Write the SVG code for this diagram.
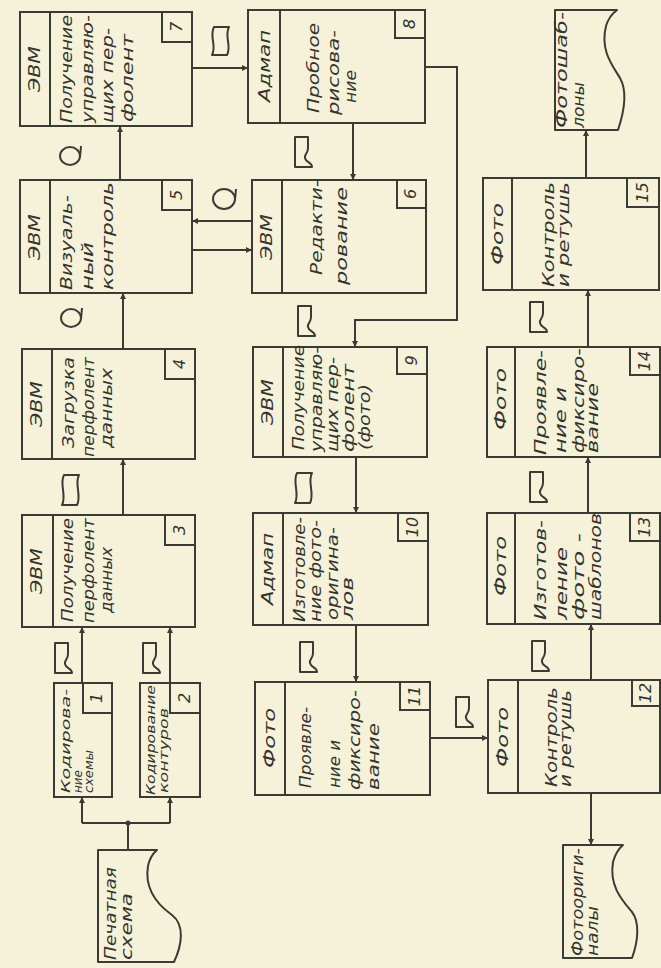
<svg xmlns="http://www.w3.org/2000/svg" width="661" height="968" viewBox="0 0 661 968">
<defs>
<style>
.bg{fill:#f6f2d9}
.b{fill:none;stroke:#3b3b36;stroke-width:2}
.c{fill:none;stroke:#3b3b36;stroke-width:2}
.s{fill:none;stroke:#3b3b36;stroke-width:2;stroke-linejoin:round}
.t{font-family:"DejaVu Sans","Liberation Sans",sans-serif;font-style:italic;font-size:16px;fill:#34342f}
.h{font-family:"DejaVu Sans","Liberation Sans",sans-serif;font-style:italic;font-size:16px;fill:#34342f;text-anchor:middle}
.sm{font-size:13px}
</style>
<marker id="ar" viewBox="0 0 10 10" refX="10" refY="5" markerWidth="8" markerHeight="6" markerUnits="userSpaceOnUse" orient="auto">
<path d="M0,0 L10,5 L0,10 Z" fill="#3b3b36"/>
</marker>
</defs>
<rect class="bg" x="0" y="0" width="661" height="968"/>

<g id="connectors">
<path class="c" d="M128,850 V823"/>
<circle cx="128" cy="823" r="2.5" fill="#3b3b36"/>
<path class="c" d="M82,823 H170"/>
<path class="c" d="M82,823 V797" marker-end="url(#ar)"/>
<path class="c" d="M170,823 V797" marker-end="url(#ar)"/>
<path class="c" d="M82,683 V627" marker-end="url(#ar)"/>
<path class="c" d="M170,683 V627" marker-end="url(#ar)"/>
<path class="c" d="M123,515 V459" marker-end="url(#ar)"/>
<path class="c" d="M123,349 V293" marker-end="url(#ar)"/>
<path class="c" d="M120,180 V126" marker-end="url(#ar)"/>
<path class="c" d="M192,68 H248" marker-end="url(#ar)"/>
<path class="c" d="M353,123 V180" marker-end="url(#ar)"/>
<path class="c" d="M192,250 H252" marker-end="url(#ar)"/>
<path class="c" d="M252,221 H192" marker-end="url(#ar)"/>
<path class="c" d="M425,67 H457 V320 H355 V347" marker-end="url(#ar)"/>
<path class="c" d="M356,457 V513" marker-end="url(#ar)"/>
<path class="c" d="M356,625 V682" marker-end="url(#ar)"/>
<path class="c" d="M430,738 H488" marker-end="url(#ar)"/>
<path class="c" d="M591,793 V845" marker-end="url(#ar)"/>
<path class="c" d="M591,680 V624" marker-end="url(#ar)"/>
<path class="c" d="M588,513 V457" marker-end="url(#ar)"/>
<path class="c" d="M588,347 V290" marker-end="url(#ar)"/>
<path class="c" d="M586,178 V130" marker-end="url(#ar)"/>
</g>

<g id="media">
<path class="s" d="M55,643 h13 v11 c0,6 -4,6 -3,10 c1,5 7,4 7,9 h-17 z"/>
<path class="s" d="M143,643 h13 v11 c0,6 -4,6 -3,10 c1,5 7,4 7,9 h-17 z"/>
<path class="s" d="M295,137 h13 v11 c0,6 -4,6 -3,10 c1,5 7,4 7,9 h-17 z"/>
<path class="s" d="M298,306 h13 v11 c0,6 -4,6 -3,10 c1,5 7,4 7,9 h-17 z"/>
<path class="s" d="M300,642 h13 v11 c0,6 -4,6 -3,10 c1,5 7,4 7,9 h-17 z"/>
<path class="s" d="M456,697 h13 v11 c0,6 -4,6 -3,10 c1,5 7,4 7,9 h-17 z"/>
<path class="s" d="M532,641 h13 v11 c0,6 -4,6 -3,10 c1,5 7,4 7,9 h-17 z"/>
<path class="s" d="M530,472 h13 v11 c0,6 -4,6 -3,10 c1,5 7,4 7,9 h-17 z"/>
<path class="s" d="M530,302 h13 v11 c0,6 -4,6 -3,10 c1,5 7,4 7,9 h-17 z"/>
<path class="s" d="M214,27 h15 c-5,9 3,19 -2,28 h-15 c5,-9 -3,-19 2,-28 z"/>
<path class="s" d="M64,475 h15 c-5,9 3,20 -2,30 h-15 c5,-10 -3,-21 2,-30 z"/>
<path class="s" d="M297,473 h15 c-5,9 3,20 -2,30 h-15 c5,-10 -3,-21 2,-30 z"/>
<ellipse class="s" cx="70" cy="156" rx="10" ry="9"/>
<path class="s" d="M80,157 L81,146"/>
<ellipse class="s" cx="71" cy="318" rx="10" ry="9"/>
<path class="s" d="M81,319 L82,308"/>
<ellipse class="s" cx="224" cy="199" rx="11" ry="10"/>
<path class="s" d="M235,200 L236,189"/>
</g>

<g id="doc_pechatnaya">
<path class="s" d="M98,850 H157 Q150,856 148,866 C144,890 158,905 172,915 C185,925 182,945 174,962 H98 Z"/>
<text class="t" transform="translate(116,960) rotate(-90)" textLength="93" lengthAdjust="spacingAndGlyphs">Печатная</text>
<text class="t" transform="translate(132,960) rotate(-90)" textLength="67" lengthAdjust="spacingAndGlyphs">схема</text>
</g>

<g id="doc_fotooriginaly">
<path class="s" d="M563,845 H623 Q616,851 613,862 C609,886 622,900 632,912 C640,922 638,942 632,958 H563 Z"/>
<text class="t" transform="translate(583,956) rotate(-90)" textLength="108" lengthAdjust="spacingAndGlyphs">Фотоориги-</text>
<text class="t" transform="translate(598,956) rotate(-90)" textLength="50" lengthAdjust="spacingAndGlyphs">налы</text>
</g>

<g id="doc_fotoshablony">
<path class="s" d="M555,10 H617 Q609,16 606,26 C600,50 612,65 620,78 C628,92 624,112 618,130 H555 Z"/>
<text class="t" transform="translate(567,128) rotate(-90)" textLength="116" lengthAdjust="spacingAndGlyphs">Фотошаб-</text>
<text class="t" transform="translate(584,128) rotate(-90)" textLength="46" lengthAdjust="spacingAndGlyphs">лоны</text>
</g>

<g id="n1">
<rect class="b" x="54" y="683" width="58" height="114"/>
<rect class="b" x="83" y="683" width="29" height="30"/>
<text class="h" transform="translate(102,698) rotate(-90)">1</text>
<text class="t sm" transform="translate(70,793) rotate(-90)" textLength="104" lengthAdjust="spacingAndGlyphs">Кодирова-</text>
<text class="t sm" transform="translate(82,793) rotate(-90)" textLength="23" lengthAdjust="spacingAndGlyphs">ние</text>
<text class="t sm" transform="translate(93,793) rotate(-90)" textLength="43" lengthAdjust="spacingAndGlyphs">схемы</text>
</g>

<g id="n2">
<rect class="b" x="140" y="683" width="60" height="114"/>
<rect class="b" x="170" y="683" width="30" height="30"/>
<text class="h" transform="translate(190,698) rotate(-90)">2</text>
<text class="t sm" transform="translate(155,795) rotate(-90)" textLength="110" lengthAdjust="spacingAndGlyphs">Кодирование</text>
<text class="t sm" transform="translate(168,793) rotate(-90)" textLength="85" lengthAdjust="spacingAndGlyphs">контуров</text>
</g>

<g id="n3">
<rect class="b" x="22" y="515" width="173" height="112"/>
<line class="b" x1="53" y1="515" x2="53" y2="627"/>
<rect class="b" x="165" y="515" width="30" height="30"/>
<text class="h" transform="translate(185,530) rotate(-90)">3</text>
<text class="h" transform="translate(42,571) rotate(-90)" textLength="46" lengthAdjust="spacingAndGlyphs">ЭВМ</text>
<text class="t" transform="translate(73,622) rotate(-90)" textLength="104" lengthAdjust="spacingAndGlyphs">Получение</text>
<text class="t" transform="translate(94,623) rotate(-90)" textLength="105" lengthAdjust="spacingAndGlyphs">перфолент</text>
<text class="t" transform="translate(112,613) rotate(-90)" textLength="66" lengthAdjust="spacingAndGlyphs">данных</text>
</g>

<g id="n4">
<rect class="b" x="22" y="349" width="173" height="110"/>
<line class="b" x1="52" y1="349" x2="52" y2="459"/>
<rect class="b" x="165" y="349" width="30" height="30"/>
<text class="h" transform="translate(185,364) rotate(-90)">4</text>
<text class="h" transform="translate(42,404) rotate(-90)" textLength="46" lengthAdjust="spacingAndGlyphs">ЭВМ</text>
<text class="t" transform="translate(74,448) rotate(-90)" textLength="91" lengthAdjust="spacingAndGlyphs">Загрузка</text>
<text class="t" transform="translate(94,457) rotate(-90)" textLength="100" lengthAdjust="spacingAndGlyphs">перфолент</text>
<text class="t" transform="translate(112,448) rotate(-90)" textLength="80" lengthAdjust="spacingAndGlyphs">данных</text>
</g>

<g id="n5">
<rect class="b" x="20" y="180" width="172" height="113"/>
<line class="b" x1="50" y1="180" x2="50" y2="293"/>
<rect class="b" x="162" y="180" width="30" height="30"/>
<text class="h" transform="translate(182,195) rotate(-90)">5</text>
<text class="h" transform="translate(40,237) rotate(-90)" textLength="46" lengthAdjust="spacingAndGlyphs">ЭВМ</text>
<text class="t" transform="translate(72,290) rotate(-90)" textLength="95" lengthAdjust="spacingAndGlyphs">Визуаль-</text>
<text class="t" transform="translate(93,290) rotate(-90)" textLength="48" lengthAdjust="spacingAndGlyphs">ный</text>
<text class="t" transform="translate(113,290) rotate(-90)" textLength="108" lengthAdjust="spacingAndGlyphs">контроль</text>
</g>

<g id="n6">
<rect class="b" x="252" y="180" width="174" height="113"/>
<line class="b" x1="282" y1="180" x2="282" y2="293"/>
<rect class="b" x="397" y="180" width="29" height="28"/>
<text class="h" transform="translate(416,194) rotate(-90)">6</text>
<text class="h" transform="translate(272,237) rotate(-90)" textLength="46" lengthAdjust="spacingAndGlyphs">ЭВМ</text>
<text class="t" transform="translate(322,275) rotate(-90)" textLength="95" lengthAdjust="spacingAndGlyphs">Редакти-</text>
<text class="t" transform="translate(347,285) rotate(-90)" textLength="98" lengthAdjust="spacingAndGlyphs">рование</text>
</g>

<g id="n7">
<rect class="b" x="20" y="12" width="172" height="114"/>
<line class="b" x1="50" y1="12" x2="50" y2="126"/>
<rect class="b" x="162" y="12" width="30" height="30"/>
<text class="h" transform="translate(182,27) rotate(-90)">7</text>
<text class="h" transform="translate(40,69) rotate(-90)" textLength="46" lengthAdjust="spacingAndGlyphs">ЭВМ</text>
<text class="t" transform="translate(72,123) rotate(-90)" textLength="108" lengthAdjust="spacingAndGlyphs">Получение</text>
<text class="t" transform="translate(93,123) rotate(-90)" textLength="108" lengthAdjust="spacingAndGlyphs">управляю-</text>
<text class="t" transform="translate(113,123) rotate(-90)" textLength="95" lengthAdjust="spacingAndGlyphs">щих пер-</text>
<text class="t" transform="translate(133,122) rotate(-90)" textLength="88" lengthAdjust="spacingAndGlyphs">фолент</text>
</g>

<g id="n8">
<rect class="b" x="248" y="10" width="177" height="113"/>
<line class="b" x1="280" y1="10" x2="280" y2="123"/>
<rect class="b" x="395" y="10" width="30" height="28"/>
<text class="h" transform="translate(415,24) rotate(-90)">8</text>
<text class="h" transform="translate(270,66) rotate(-90)" textLength="72" lengthAdjust="spacingAndGlyphs">Адмап</text>
<text class="t" transform="translate(319,113) rotate(-90)" textLength="90" lengthAdjust="spacingAndGlyphs">Пробное</text>
<text class="t" transform="translate(339,115) rotate(-90)" textLength="85" lengthAdjust="spacingAndGlyphs">рисова-</text>
<text class="t" transform="translate(356,103) rotate(-90)" textLength="33" lengthAdjust="spacingAndGlyphs">ние</text>
</g>

<g id="n9">
<rect class="b" x="253" y="347" width="174" height="110"/>
<line class="b" x1="283" y1="347" x2="283" y2="457"/>
<rect class="b" x="397" y="347" width="30" height="27"/>
<text class="h" transform="translate(417,360.5) rotate(-90)">9</text>
<text class="h" transform="translate(273,402) rotate(-90)" textLength="46" lengthAdjust="spacingAndGlyphs">ЭВМ</text>
<text class="t" transform="translate(304,450) rotate(-90)" textLength="105" lengthAdjust="spacingAndGlyphs">Получение</text>
<text class="t" transform="translate(322,452) rotate(-90)" textLength="105" lengthAdjust="spacingAndGlyphs">управляю-</text>
<text class="t" transform="translate(338,452) rotate(-90)" textLength="95" lengthAdjust="spacingAndGlyphs">щих пер-</text>
<text class="t" transform="translate(354,452) rotate(-90)" textLength="88" lengthAdjust="spacingAndGlyphs">фолент</text>
<text class="t" transform="translate(370,450) rotate(-90)" textLength="66" lengthAdjust="spacingAndGlyphs">(фото)</text>
</g>

<g id="n10">
<rect class="b" x="253" y="513" width="175" height="112"/>
<line class="b" x1="283" y1="513" x2="283" y2="625"/>
<rect class="b" x="398" y="513" width="30" height="28"/>
<text class="h" transform="translate(418,527) rotate(-90)">10</text>
<text class="h" transform="translate(273,569) rotate(-90)" textLength="72" lengthAdjust="spacingAndGlyphs">Адмап</text>
<text class="t" transform="translate(305,622) rotate(-90)" textLength="105" lengthAdjust="spacingAndGlyphs">Изготовле-</text>
<text class="t" transform="translate(321,622) rotate(-90)" textLength="102" lengthAdjust="spacingAndGlyphs">ние фото-</text>
<text class="t" transform="translate(338,620) rotate(-90)" textLength="93" lengthAdjust="spacingAndGlyphs">оригина-</text>
<text class="t" transform="translate(353,620) rotate(-90)" textLength="43" lengthAdjust="spacingAndGlyphs">лов</text>
</g>

<g id="n11">
<rect class="b" x="255" y="682" width="175" height="113"/>
<line class="b" x1="285" y1="682" x2="285" y2="795"/>
<rect class="b" x="400" y="682" width="30" height="28"/>
<text class="h" transform="translate(420,696) rotate(-90)">11</text>
<text class="h" transform="translate(275,738) rotate(-90)" textLength="60" lengthAdjust="spacingAndGlyphs">Фото</text>
<text class="t" transform="translate(311,788) rotate(-90)" textLength="81" lengthAdjust="spacingAndGlyphs">Проявле-</text>
<text class="t" transform="translate(340,788) rotate(-90)" textLength="48" lengthAdjust="spacingAndGlyphs">ние и</text>
<text class="t" transform="translate(360,790) rotate(-90)" textLength="100" lengthAdjust="spacingAndGlyphs">фиксиро-</text>
<text class="t" transform="translate(379,790) rotate(-90)" textLength="67" lengthAdjust="spacingAndGlyphs">вание</text>
</g>

<g id="n12">
<rect class="b" x="488" y="680" width="172" height="113"/>
<line class="b" x1="518" y1="680" x2="518" y2="793"/>
<rect class="b" x="632" y="680" width="28" height="26"/>
<text class="h" transform="translate(651,693) rotate(-90)">12</text>
<text class="h" transform="translate(508,737) rotate(-90)" textLength="60" lengthAdjust="spacingAndGlyphs">Фото</text>
<text class="t" transform="translate(557,787) rotate(-90)" textLength="100" lengthAdjust="spacingAndGlyphs">Контроль</text>
<text class="t" transform="translate(571,787) rotate(-90)" textLength="97" lengthAdjust="spacingAndGlyphs">и ретушь</text>
</g>

<g id="n13">
<rect class="b" x="487" y="513" width="173" height="111"/>
<line class="b" x1="515" y1="513" x2="515" y2="624"/>
<rect class="b" x="630" y="513" width="30" height="28"/>
<text class="h" transform="translate(650,527) rotate(-90)">13</text>
<text class="h" transform="translate(506,566) rotate(-90)" textLength="60" lengthAdjust="spacingAndGlyphs">Фото</text>
<text class="t" transform="translate(546,620) rotate(-90)" textLength="100" lengthAdjust="spacingAndGlyphs">Изготов-</text>
<text class="t" transform="translate(567,620) rotate(-90)" textLength="73" lengthAdjust="spacingAndGlyphs">ление</text>
<text class="t" transform="translate(584,620) rotate(-90)" textLength="87" lengthAdjust="spacingAndGlyphs">фото -</text>
<text class="t" transform="translate(601,620) rotate(-90)" textLength="107" lengthAdjust="spacingAndGlyphs">шаблонов</text>
</g>

<g id="n14">
<rect class="b" x="487" y="347" width="173" height="110"/>
<line class="b" x1="515" y1="347" x2="515" y2="457"/>
<rect class="b" x="630" y="347" width="30" height="28"/>
<text class="h" transform="translate(650,361) rotate(-90)">14</text>
<text class="h" transform="translate(506,399) rotate(-90)" textLength="62" lengthAdjust="spacingAndGlyphs">Фото</text>
<text class="t" transform="translate(546,455) rotate(-90)" textLength="105" lengthAdjust="spacingAndGlyphs">Проявле-</text>
<text class="t" transform="translate(566,453) rotate(-90)" textLength="66" lengthAdjust="spacingAndGlyphs">ние и</text>
<text class="t" transform="translate(584,453) rotate(-90)" textLength="105" lengthAdjust="spacingAndGlyphs">фиксиро-</text>
<text class="t" transform="translate(598,453) rotate(-90)" textLength="70" lengthAdjust="spacingAndGlyphs">вание</text>
</g>

<g id="n15">
<rect class="b" x="483" y="178" width="176" height="112"/>
<line class="b" x1="512" y1="178" x2="512" y2="290"/>
<rect class="b" x="627" y="178" width="32" height="29"/>
<text class="h" transform="translate(648,192.5) rotate(-90)">15</text>
<text class="h" transform="translate(503,234) rotate(-90)" textLength="62" lengthAdjust="spacingAndGlyphs">Фото</text>
<text class="t" transform="translate(554,287) rotate(-90)" textLength="105" lengthAdjust="spacingAndGlyphs">Контроль</text>
<text class="t" transform="translate(569,287) rotate(-90)" textLength="105" lengthAdjust="spacingAndGlyphs">и ретушь</text>
</g>
</svg>
